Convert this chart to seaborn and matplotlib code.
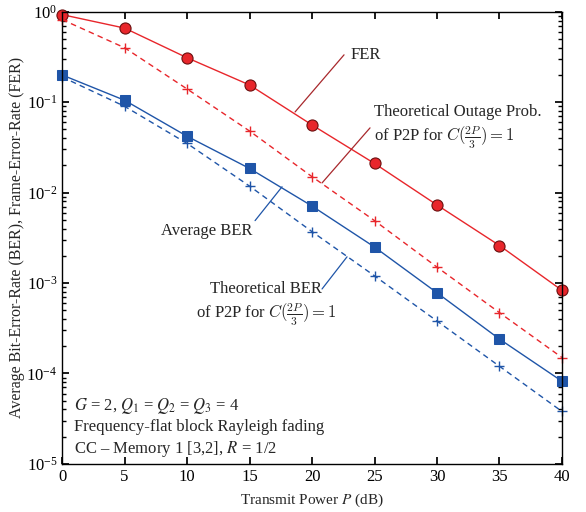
import numpy as np
import pandas as pd
import matplotlib
matplotlib.use("Agg")
import matplotlib.pyplot as plt
import seaborn as sns

power_db = [0, 5, 10, 15, 20, 25, 30, 35, 40]
fer = [0.93, 0.66, 0.31, 0.155, 0.056, 0.021, 0.0073, 0.0026, 0.00083]
outage_theory = [0.82, 0.40, 0.14, 0.048, 0.015, 0.0049, 0.0015, 0.00047, 0.00015]
avg_ber = [0.20, 0.105, 0.042, 0.0185, 0.0071, 0.0025, 0.00078, 0.00024, 0.000082]
ber_theory = [0.19, 0.090, 0.035, 0.0118, 0.0037, 0.0012, 0.00038, 0.00012, 0.000038]

sns.set_theme(style="ticks")
plt.rcParams['font.family'] = ['Liberation Serif', 'DejaVu Serif']
plt.rcParams['mathtext.fontset'] = 'stix'

red = '#e8262b'
blue = '#1f55a8'

df = pd.DataFrame({'P': power_db, 'fer': fer, 'out': outage_theory,
                   'ber': avg_ber, 'bth': ber_theory})

fig = plt.figure(figsize=(5.86, 5.12), dpi=100)
ax = fig.add_axes([0.106, 0.094, 0.853, 0.883])

sns.lineplot(data=df, x='P', y='fer', ax=ax, color=red, lw=1.0, marker='o',
             markersize=8, markerfacecolor=red, markeredgecolor='#6a1010', markeredgewidth=0.8)
sns.lineplot(data=df, x='P', y='out', ax=ax, color=red, lw=1.0, marker='+',
             markersize=7, markeredgewidth=1.0, markeredgecolor=red)
ax.lines[-1].set_linestyle((0, (4, 3)))
sns.lineplot(data=df, x='P', y='ber', ax=ax, color=blue, lw=1.0, marker='s',
             markersize=7, markerfacecolor=blue, markeredgecolor=blue)
sns.lineplot(data=df, x='P', y='bth', ax=ax, color=blue, lw=1.0, marker='+',
             markersize=7, markeredgewidth=1.0, markeredgecolor=blue)
ax.lines[-1].set_linestyle((0, (4, 3)))
for ln in ax.lines:
    ln.set_clip_on(False)

ax.set_yscale('log')
ax.set_xlim(0, 40)
ax.set_ylim(1e-5, 1)
ax.set_xticks(range(0, 41, 5))
ax.tick_params(which='both', direction='in', top=True, right=True, labelsize=12, colors='black')
ax.tick_params(which='major', length=5)
ax.tick_params(which='minor', length=3)
for s in ax.spines.values():
    s.set_color('black'); s.set_linewidth(1.0)
ax.set_xlabel('Transmit Power $\\mathit{P}$ (dB)', fontsize=11, labelpad=5)
ax.set_ylabel('Average Bit-Error-Rate (BER), Frame-Error-Rate (FER)', fontsize=11.5, labelpad=1)
ax.grid(False)

dark = '#a8282c'
lp = dict(arrowstyle='-', lw=0.9, shrinkA=0, shrinkB=0)
ax.annotate('', xy=(18.64, 0.078), xytext=(22.56, 0.334), arrowprops=dict(lp, color=dark))
ax.text(23.04, 0.334, 'FER', fontsize=12, ha='left', va='center')
ax.annotate('', xy=(20.8, 0.0128), xytext=(24.64, 0.052), arrowprops=dict(lp, color=dark))
ax.text(24.96, 0.052, 'Theoretical Outage Prob.\nof P2P for $C(\\frac{2P}{3})=1$', fontsize=12,
        ha='left', va='center', linespacing=1.3, math_fontfamily='cm')
ax.annotate('', xy=(17.6, 0.0116), xytext=(15.44, 0.0049), arrowprops=dict(lp, color=blue))
ax.text(15.2, 0.0038, 'Average BER', fontsize=12, ha='right', va='center')
ax.annotate('', xy=(22.8, 0.00195), xytext=(20.8, 0.00086), arrowprops=dict(lp, color=blue))
ax.text(16.3, 0.00058, 'Theoretical BER\nof P2P for $C(\\frac{2P}{3})=1$', fontsize=12,
        ha='center', va='center', linespacing=1.3, math_fontfamily='cm')

ax.text(0.024, 0.08, '$\\mathit{G}$ = 2, $\\mathit{Q_1}$ = $\\mathit{Q_2}$ = $\\mathit{Q_3}$ = 4\n'
        'Frequency-flat block Rayleigh fading\nCC – Memory 1 [3,2], $\\mathit{R}$ = 1/2',
        transform=ax.transAxes, fontsize=12, ha='left', va='center', linespacing=1.25)

fig.savefig('out.png', dpi=100)
